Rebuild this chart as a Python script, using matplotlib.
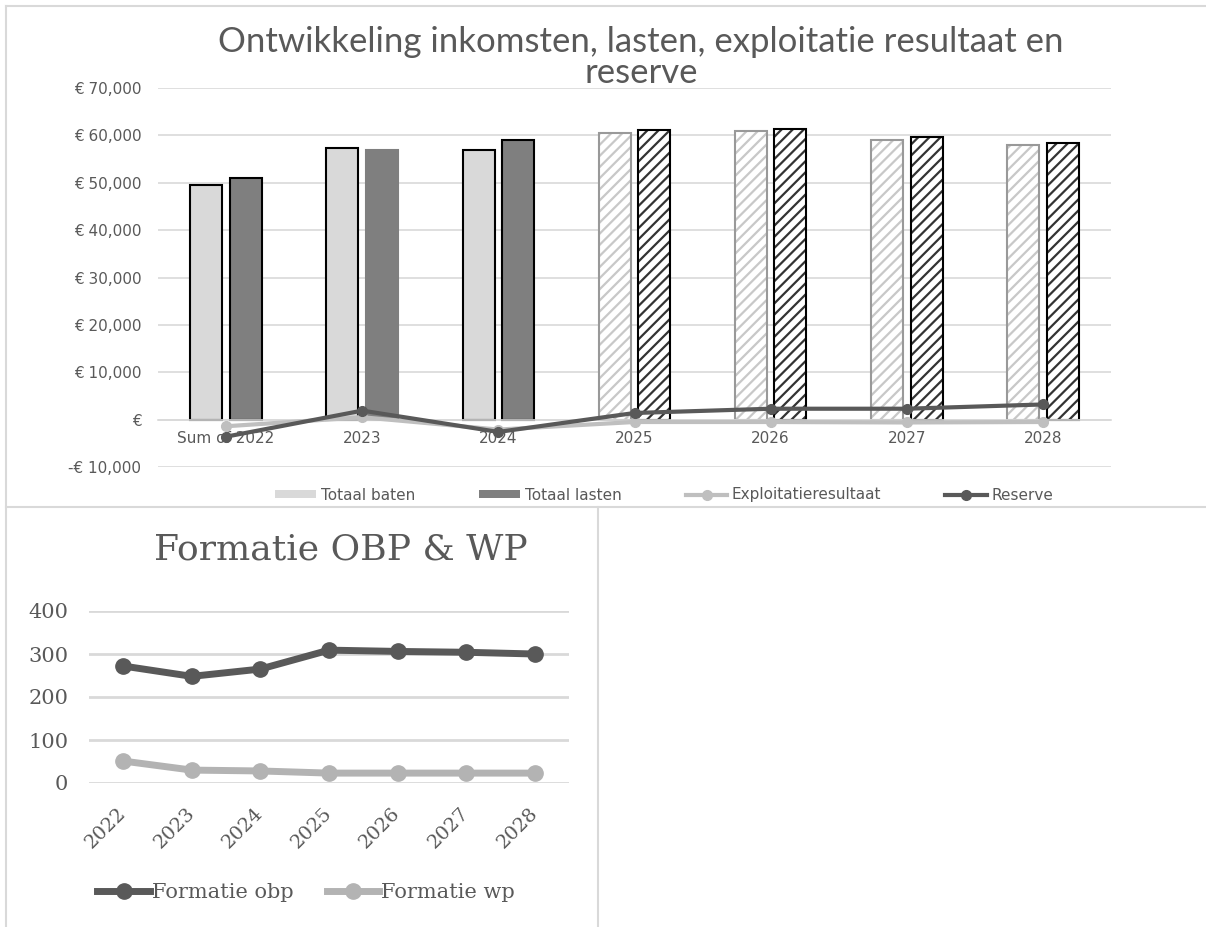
"""Ontwikkeling inkomsten/lasten en formatie, nagebouwd uit een Excel-grafiek."""

import matplotlib.pyplot as plt
from matplotlib.lines import Line2D
from matplotlib.patches import Patch

# ---- data bovenste grafiek
categories = ['Sum of 2022', '2023', '2024', '2025', '2026', '2027', '2028']
totaal_baten = [49500, 57300, 57000, 60400, 60900, 59000, 57900]
totaal_lasten = [51000, 56900, 59100, 61100, 61400, 59600, 58400]
exploitatieresultaat = [-1400, 500, -2100, -500, -500, -600, -500]
reserve = [-3600, 1900, -2600, 1400, 2300, 2300, 3200]
n_realisatie = 3  # 2022-2024 gerealiseerd, daarna begroting (gearceerd)

# ---- data onderste grafiek
jaren = ['2022', '2023', '2024', '2025', '2026', '2027', '2028']
formatie_obp = [272, 248, 265, 309, 306, 304, 300]
formatie_wp = [51, 30, 28, 23, 23, 23, 23]

W, H = 1206, 927
LIGHT = '#d9d9d9'
MID = '#7f7f7f'
TXT = '#595959'
EXP_C = '#bfbfbf'
RES_C = '#595959'
WP_C = '#b3b3b3'

plt.rcParams['hatch.linewidth'] = 1.6

fig = plt.figure(figsize=(W / 100, H / 100), dpi=100)


def px_axes(x0, y0, x1, y1):
    '''Axes from pixel box (top-left origin).'''
    return fig.add_axes([x0 / W, 1 - y1 / H, (x1 - x0) / W, (y1 - y0) / H])


# panel borders
for (xa, ya, xb, yb) in [(6, 6, 1206, 6), (6, 6, 6, 927), (6, 507, 1206, 507),
                         (598, 507, 598, 927)]:
    fig.add_artist(Line2D([xa / W, xb / W], [1 - ya / H, 1 - yb / H],
                          color=LIGHT, lw=1.5))

# ================= bovenste grafiek
ax = px_axes(158, 88, 1111, 467)
x = list(range(len(categories)))
bw = 0.235
off = 0.145
for i in x:
    if i < n_realisatie:
        ax.bar(i - off, totaal_baten[i], bw, color=LIGHT, edgecolor='black',
               lw=1.5, zorder=2)
        ax.bar(i + off, totaal_lasten[i], bw, color=MID,
               edgecolor='black' if i != 1 else MID, lw=1.5, zorder=2)
    else:
        ax.bar(i - off, totaal_baten[i], bw, color='white', edgecolor='#c8c8c8',
               hatch='///', lw=0, zorder=2)
        ax.bar(i - off, totaal_baten[i], bw, fill=False, edgecolor='#999999',
               lw=1.5, zorder=2)
        ax.bar(i + off, totaal_lasten[i], bw, color='white', edgecolor='#333333',
               hatch='///', lw=0, zorder=2)
        ax.bar(i + off, totaal_lasten[i], bw, fill=False, edgecolor='black',
               lw=1.5, zorder=2)

ax.plot(x, exploitatieresultaat, color=EXP_C, lw=3, marker='o', ms=7, zorder=3)
ax.plot(x, reserve, color=RES_C, lw=3, marker='o', ms=7, zorder=4)

ax.set_xlim(-0.5, len(categories) - 0.5)
ax.set_ylim(-10000, 70000)
ax.set_yticks(range(-10000, 70001, 10000))
ax.set_yticklabels(['-€ 10,000', '€', '€ 10,000', '€ 20,000', '€ 30,000',
                    '€ 40,000', '€ 50,000', '€ 60,000', '€ 70,000'])
ax.set_xticks(x)
ax.set_xticklabels(categories)
ax.grid(axis='y', color=LIGHT, lw=1.2, zorder=0)
for s in ['top', 'right', 'left']:
    ax.spines[s].set_visible(False)
ax.spines['bottom'].set_position(('data', 0))
ax.spines['bottom'].set_color(LIGHT)
ax.spines['bottom'].set_linewidth(1.2)
ax.tick_params(axis='both', length=0, colors=TXT, labelsize=11)
ax.tick_params(axis='y', pad=12)
ax.tick_params(axis='x', pad=8)

title_font = ['Lato', 'DejaVu Sans']
fig.text(641 / W, 1 - 42 / H, 'Ontwikkeling inkomsten, lasten, exploitatie resultaat en',
         ha='center', va='center', fontsize=25, color=TXT, family=title_font)
fig.text(641 / W, 1 - 73 / H, 'reserve', ha='center', va='center', fontsize=25,
         color=TXT, family=title_font)

handles = [Patch(facecolor=LIGHT, edgecolor='none'),
           Patch(facecolor=MID, edgecolor='none'),
           Line2D([], [], color=EXP_C, lw=3, marker='o', ms=7),
           Line2D([], [], color=RES_C, lw=3, marker='o', ms=7)]
fig.legend(handles, ['Totaal baten', 'Totaal lasten', 'Exploitatieresultaat', 'Reserve'],
           loc='center', bbox_to_anchor=(664 / W, 1 - 495 / H), ncol=4,
           frameon=False, fontsize=11, labelcolor=TXT, handlelength=2.7,
           handleheight=0.45, handletextpad=0.3, columnspacing=4.2)

# ================= onderste grafiek
serif = ['DejaVu Serif']
ax2 = px_axes(89, 611, 569, 783)
x2 = list(range(len(jaren)))
ax2.plot(x2, formatie_obp, color=RES_C, lw=5, marker='o', ms=11, zorder=3)
ax2.plot(x2, formatie_wp, color=WP_C, lw=5, marker='o', ms=11, zorder=3)
ax2.set_xlim(-0.5, len(jaren) - 0.5)
ax2.set_ylim(0, 400)
ax2.set_yticks([0, 100, 200, 300, 400])
ax2.set_xticks(x2)
ax2.set_xticklabels(jaren, rotation=45, ha='right', va='center',
                    rotation_mode='anchor', family=serif)
for lab in ax2.get_yticklabels():
    lab.set_family(serif)
ax2.grid(axis='y', color=LIGHT, lw=2, zorder=0)
ax2.set_axisbelow(True)
for s in ax2.spines.values():
    s.set_visible(False)
ax2.tick_params(axis='both', length=0, colors=TXT, labelsize=15)
ax2.tick_params(axis='y', pad=15)
ax2.tick_params(axis='x', labelsize=14, pad=20)

fig.text(341 / W, 1 - 550 / H, 'Formatie OBP & WP', ha='center', va='center',
         fontsize=26, color=TXT, family=serif)

h2 = [Line2D([], [], color=RES_C, lw=5, marker='o', ms=11),
      Line2D([], [], color=WP_C, lw=5, marker='o', ms=11)]
fig.legend(h2, ['Formatie obp', 'Formatie wp'], loc='center',
           bbox_to_anchor=(306 / W, 1 - 893 / H), ncol=2, frameon=False,
           prop={'family': serif, 'size': 15}, labelcolor=TXT,
           handlelength=2.5, handletextpad=0.1, columnspacing=1.6)

fig.savefig('out.png', dpi=100)
